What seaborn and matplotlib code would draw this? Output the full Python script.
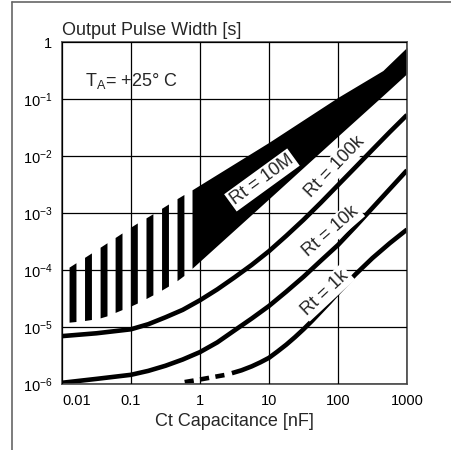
import numpy as np
import seaborn as sns
import matplotlib.pyplot as plt
from matplotlib.lines import Line2D

sns.set_style('white')
plt.rcParams['font.family'] = ['Liberation Sans', 'DejaVu Sans']
plt.rcParams['mathtext.default'] = 'regular'

# ---- data (Ct in nF, pulse width in s) ----
# Rt = 10M band (solid part)
band_ct = [0.766, 10, 100, 447, 1000]
band_hi = [2.55e-3, 1.74e-2, 0.107, 0.316, 0.81]
band_lo = [1.07e-4, 1.78e-3, 2.24e-2, 0.115, 0.28]

# Rt = 10M extension, drawn as vertical stripes
hatch_ct = [0.0112, 0.0142, 0.0238, 0.040, 0.066, 0.110, 0.185, 0.311, 0.521, 0.766]
hatch_hi = [1.02e-4, 1.23e-4, 1.82e-4, 2.75e-4, 4.07e-4, 6.17e-4, 8.91e-4, 1.32e-3, 1.95e-3, 2.55e-3]
hatch_lo = [1.20e-5, 1.23e-5, 1.32e-5, 1.48e-5, 1.91e-5, 2.45e-5, 3.39e-5, 4.79e-5, 7.08e-5, 1.07e-4]

# Rt = 100k
ct_100k = [0.01, 0.0316, 0.1, 0.178, 0.316, 0.562, 1, 1.78, 3.16, 5.62, 10, 17.8,
           31.6, 56.2, 100, 178, 316, 562, 1000]
t_100k = [6.92e-6, 7.76e-6, 9.12e-6, 1.12e-5, 1.48e-5, 2.0e-5, 2.95e-5, 4.57e-5,
          7.41e-5, 1.23e-4, 2.14e-4, 3.98e-4, 7.59e-4, 1.51e-3, 3.09e-3, 6.31e-3,
          1.29e-2, 2.63e-2, 5.25e-2]

# Rt = 10k
ct_10k = [0.01, 0.0316, 0.1, 0.178, 0.316, 0.562, 1, 1.78, 3.16, 5.62, 10, 17.8,
          31.6, 56.2, 100, 178, 316, 562, 1000]
t_10k = [1.05e-6, 1.23e-6, 1.45e-6, 1.70e-6, 2.09e-6, 2.69e-6, 3.63e-6, 5.37e-6,
         8.71e-6, 1.41e-5, 2.34e-5, 4.17e-5, 7.59e-5, 1.45e-4, 2.75e-4, 5.75e-4,
         1.23e-3, 2.63e-3, 5.62e-3]

# Rt = 1k (dashed below ~3 nF)
ct_1k_dash = [0.6, 1, 2.6]
t_1k_dash = [1.08e-6, 1.20e-6, 1.48e-6]
ct_1k = [2.9, 4, 5.62, 7.5, 10, 13.3, 17.8, 23.7, 31.6, 42.2, 56.2, 75, 100,
         178, 316, 562, 1000]
t_1k = [1.55e-6, 1.74e-6, 2.04e-6, 2.40e-6, 2.88e-6, 3.72e-6, 4.90e-6, 6.61e-6,
        9.12e-6, 1.29e-5, 1.86e-5, 2.69e-5, 3.98e-5, 8.32e-5, 1.62e-4, 2.95e-4,
        5.13e-4]

x_ticks = [0.01, 0.1, 1, 10, 100, 1000]
x_labels = ['0.01', '0.1', '1', '10', '100', '1000']
y_ticks = [1e-6, 1e-5, 1e-4, 1e-3, 1e-2, 1e-1, 1]
y_labels = ['$10^{-6}$', '$10^{-5}$', '$10^{-4}$', '$10^{-3}$', '$10^{-2}$', '$10^{-1}$', '1']

# curve labels: text, Ct, t, angle
curve_labels = [('Rt = 10M', 7.9, 3.8e-3, 36),
                ('Rt = 100k', 90, 6.4e-3, 46),
                ('Rt = 10k', 79, 4.7e-4, 41),
                ('Rt = 1k', 65, 4.0e-5, 43)]

fig = plt.figure(figsize=(4.52, 4.5), dpi=100)
ax = fig.add_axes([62/452, 1 - 384/450, 345/452, 342/450])
ax.set_xscale('log')
ax.set_yscale('log')

# band + stripes
ax.fill_between(band_ct, band_lo, band_hi, color='black', lw=0)

def edge(x, xs, ys):
    return 10 ** np.interp(np.log10(x), np.log10(xs), np.log10(ys))

for c in hatch_ct[1:-1]:
    xs = np.array([c / 10**0.05, c * 10**0.05])
    ax.fill_between(xs, edge(xs, hatch_ct, hatch_lo), edge(xs, hatch_ct, hatch_hi),
                    color='black', lw=0)

# curves
lw = 3.3
for cx, cy in [(ct_100k, t_100k), (ct_10k, t_10k), (ct_1k, t_1k)]:
    sns.lineplot(x=cx, y=cy, ax=ax, color='black', linewidth=lw, estimator=None,
                 solid_capstyle='butt', solid_joinstyle='round')
sns.lineplot(x=ct_1k_dash, y=t_1k_dash, ax=ax, color='black', linewidth=lw, estimator=None,
             linestyle=(0, (2.0, 1.4)), dash_capstyle='butt')

ax.set_xlim(0.01, 1000)
ax.set_ylim(1e-6, 1)
ax.minorticks_off()
ax.set_xticks(x_ticks)
ax.set_xticklabels(x_labels)
ax.set_yticks(y_ticks)
ax.set_yticklabels(y_labels)
ax.get_xticklabels()[0].set_ha('left')
ax.tick_params(length=0, pad=7, labelsize=10.5, colors='black')
ax.grid(True, which='major', color='black', lw=0.9)
ax.set_axisbelow(False)
for s in ax.spines.values():
    s.set_color('#555555')
    s.set_linewidth(1.3)
ax.set_xlabel('')
ax.set_ylabel('')

for txt, cx, cy, ang in curve_labels:
    ax.text(cx, cy, txt, fontsize=13, rotation=ang, rotation_mode='anchor',
            ha='center', va='center', zorder=5,
            bbox=dict(facecolor='white', edgecolor='none', pad=1.5))

ax.text(0.067, 0.871, 'T$_{A}$= +25° C', transform=ax.transAxes, fontsize=13,
        ha='left', va='baseline')
ax.text(0, 1.02, 'Output Pulse Width [s]', transform=ax.transAxes, fontsize=13,
        ha='left', va='baseline')
ax.text(0.5, -0.123, 'Ct Capacitance [nF]', transform=ax.transAxes, fontsize=13,
        ha='center', va='baseline')

# page frame (left and top)
fig.add_artist(Line2D([11.5/452, 11.5/452], [0, 1 - 1.5/450], transform=fig.transFigure,
                      color='#666666', lw=1.2))
fig.add_artist(Line2D([11.5/452, 1], [1 - 1.5/450, 1 - 1.5/450], transform=fig.transFigure,
                      color='#666666', lw=1.2))

fig.savefig('out.png', dpi=100)
